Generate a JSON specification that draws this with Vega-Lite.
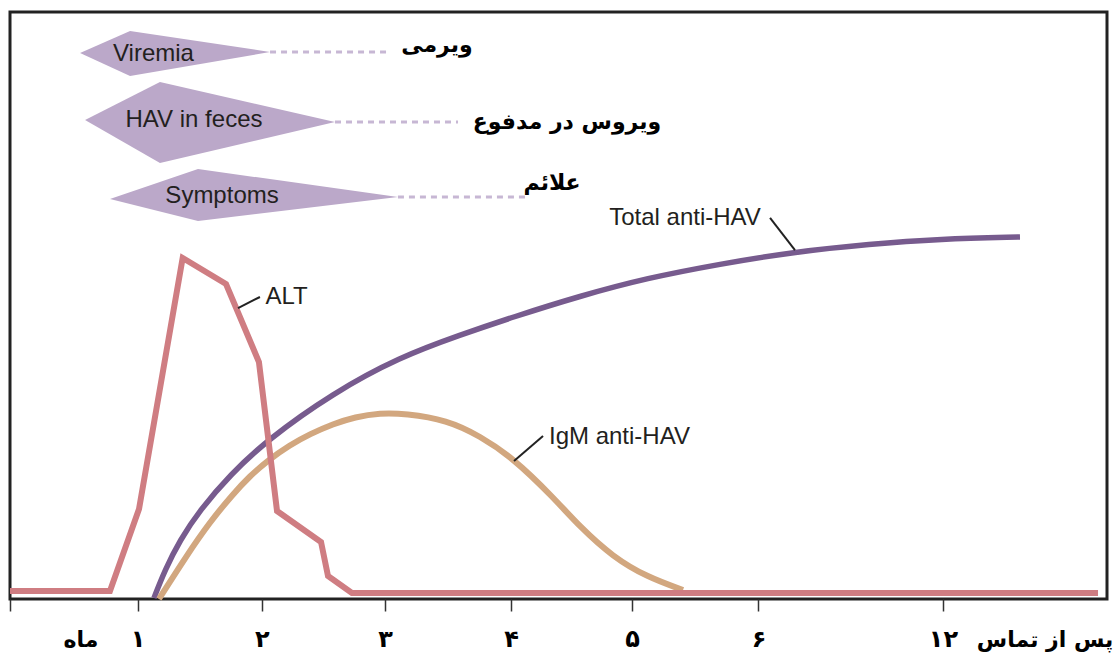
{
  "$schema": "https://vega.github.io/schema/vega-lite/v6.json",
  "width": 1097,
  "height": 587,
  "autosize": {"type": "none"},
  "padding": {"left": 10, "top": 12, "right": 9, "bottom": 58},
  "background": "white",
  "config": {
    "view": {"stroke": "#222222", "strokeWidth": 3},
    "axis": {"grid": false, "domain": false}
  },
  "datasets": {
    "alt": [
      {"x": 0, "y": 1.36}, {"x": 0.802, "y": 1.36}, {"x": 1.035, "y": 15.33}, {"x": 1.385, "y": 58.09},
      {"x": 1.733, "y": 53.66}, {"x": 1.997, "y": 40.37}, {"x": 2.142, "y": 14.99}, {"x": 2.495, "y": 9.71},
      {"x": 2.551, "y": 3.92}, {"x": 2.743, "y": 1.02}, {"x": 8.728, "y": 1.02}
    ],
    "total": [
      {"x": 1.155, "y": 0.17}, {"x": 1.243, "y": 4.94}, {"x": 1.364, "y": 10.05}, {"x": 1.524, "y": 15.16},
      {"x": 1.765, "y": 21.12}, {"x": 2.062, "y": 27.09}, {"x": 2.591, "y": 35.09}, {"x": 3.128, "y": 41.23},
      {"x": 3.61, "y": 44.97}, {"x": 4.035, "y": 48.04}, {"x": 4.572, "y": 51.62}, {"x": 5.11, "y": 54.68},
      {"x": 5.696, "y": 57.07}, {"x": 6.281, "y": 59.11}, {"x": 6.899, "y": 60.48}, {"x": 7.46, "y": 61.33},
      {"x": 8.102, "y": 61.67}
    ],
    "igm": [
      {"x": 1.195, "y": 0}, {"x": 1.42, "y": 7.5}, {"x": 1.604, "y": 13.12}, {"x": 1.789, "y": 17.89},
      {"x": 1.925, "y": 20.95}, {"x": 2.062, "y": 23.51}, {"x": 2.246, "y": 26.24}, {"x": 2.407, "y": 28.11},
      {"x": 2.591, "y": 29.81}, {"x": 2.768, "y": 31.01}, {"x": 2.968, "y": 31.69}, {"x": 3.17, "y": 31.6},
      {"x": 3.506, "y": 30.49}, {"x": 3.77, "y": 27.77}, {"x": 4.035, "y": 24.02}, {"x": 4.356, "y": 17.38},
      {"x": 4.572, "y": 12.27}, {"x": 4.837, "y": 7.16}, {"x": 5.11, "y": 3.75}, {"x": 5.399, "y": 1.53}
    ],
    "diamonds": [
      {"g": "Viremia", "x": 0.562, "y": 93.02, "y2": 93.02},
      {"g": "Viremia", "x": 0.963, "y": 96.76, "y2": 89.1},
      {"g": "Viremia", "x": 2.086, "y": 93.19, "y2": 93.19},
      {"g": "Feces", "x": 0.602, "y": 81.6, "y2": 81.6},
      {"g": "Feces", "x": 1.203, "y": 88.07, "y2": 74.28},
      {"g": "Feces", "x": 2.607, "y": 81.26, "y2": 81.26},
      {"g": "Symptoms", "x": 0.802, "y": 68.14, "y2": 68.14},
      {"g": "Symptoms", "x": 1.508, "y": 73.25, "y2": 64.4},
      {"g": "Symptoms", "x": 3.112, "y": 68.48, "y2": 68.48}
    ],
    "dashes": [
      {"x": 2.086, "x2": 3.048, "y": 93.19},
      {"x": 2.607, "x2": 3.594, "y": 81.26},
      {"x": 3.112, "x2": 4.131, "y": 68.48}
    ],
    "leaders": [
      {"x": 1.829, "y": 49.57, "x2": 2.005, "y2": 51.45},
      {"x": 6.297, "y": 59.45, "x2": 6.097, "y2": 64.91},
      {"x": 4.043, "y": 23.51, "x2": 4.276, "y2": 27.77}
    ],
    "enLabels": [
      {"text": "Viremia", "x": 1.151, "y": 92.84},
      {"text": "HAV in feces", "x": 1.476, "y": 81.6},
      {"text": "Symptoms", "x": 1.701, "y": 68.65},
      {"text": "ALT", "x": 2.218, "y": 51.45},
      {"text": "Total anti-HAV", "x": 5.415, "y": 64.91},
      {"text": "IgM anti-HAV", "x": 4.889, "y": 27.6}
    ],
    "faLabels": [
      {"text": "ویرمی", "x": 3.425, "y": 94.38},
      {"text": "ویروس در مدفوع", "x": 4.468, "y": 81.26},
      {"text": "علائم", "x": 4.348, "y": 70.87},
      {"text": "ماه", "x": 0.57, "y": -6.9},
      {"text": "پس از تماس", "x": 8.303, "y": -6.9}
    ]
  },
  "encoding": {
    "x": {
      "field": "x", "type": "quantitative",
      "scale": {"domain": [0, 8.8], "nice": false, "zero": false},
      "axis": {
        "title": null,
        "values": [0, 1.023, 2.021, 3.008, 4.019, 4.99, 6.004, 7.484],
        "labelExpr": "datum.value > 7 ? '۱۲' : ['', '۱', '۲', '۳', '۴', '۵', '۶'][round(datum.value)]",
        "tickSize": 12, "tickColor": "#333333", "tickWidth": 1.5,
        "labelFont": "DejaVu Sans", "labelFontWeight": "bold", "labelFontSize": 24,
        "labelColor": "#000000", "labelBaseline": "middle", "labelPadding": 28,
        "labelFlush": false, "labelOverlap": false
      }
    },
    "y": {
      "field": "y", "type": "quantitative",
      "scale": {"domain": [0, 100], "nice": false, "zero": false},
      "axis": null
    }
  },
  "layer": [
    {
      "data": {"name": "diamonds"},
      "mark": {"type": "area", "color": "#BBA8C9", "opacity": 1, "interpolate": "linear"},
      "encoding": {"y2": {"field": "y2"}, "detail": {"field": "g"}}
    },
    {
      "data": {"name": "dashes"},
      "mark": {"type": "rule", "color": "#C7B7D4", "strokeWidth": 3, "strokeDash": [6, 5]},
      "encoding": {"x2": {"field": "x2"}}
    },
    {
      "data": {"name": "total"},
      "mark": {"type": "line", "color": "#775B8E", "strokeWidth": 5.5, "interpolate": "basis"},
      "encoding": {}
    },
    {
      "data": {"name": "igm"},
      "mark": {"type": "line", "color": "#D2A77F", "strokeWidth": 6, "interpolate": "basis"},
      "encoding": {}
    },
    {
      "data": {"name": "alt"},
      "mark": {"type": "line", "color": "#CF7D82", "strokeWidth": 6, "interpolate": "linear", "strokeJoin": "miter"},
      "encoding": {}
    },
    {
      "data": {"name": "leaders"},
      "mark": {"type": "rule", "color": "#222222", "strokeWidth": 2},
      "encoding": {"x2": {"field": "x2"}, "y2": {"field": "y2"}}
    },
    {
      "data": {"name": "enLabels"},
      "mark": {"type": "text", "font": "Liberation Sans", "fontSize": 24, "color": "#231F20", "align": "center", "baseline": "middle"},
      "encoding": {"text": {"field": "text"}}
    },
    {
      "data": {"name": "faLabels"},
      "mark": {"type": "text", "font": "DejaVu Sans", "fontWeight": "bold", "fontSize": 22, "color": "#000000", "align": "center", "baseline": "middle"},
      "encoding": {"text": {"field": "text"}}
    }
  ]
}
